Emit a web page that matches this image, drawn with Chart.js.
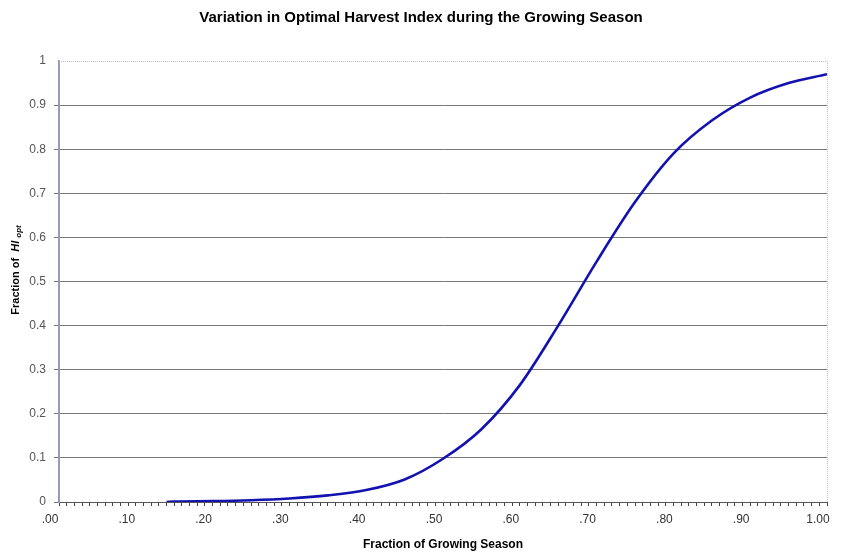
<!DOCTYPE html>
<html>
<head>
<meta charset="utf-8">
<script src="https://cdn.jsdelivr.net/npm/chart.js@4.4.1/dist/chart.umd.min.js"></script>
<style>
  body { margin: 0; background: #fff; }
  #wrap { width: 841px; height: 553px; }
</style>
</head>
<body>
<div id="wrap"><canvas id="hiChart" width="841" height="553"></canvas></div>
<script>
// fraction of growing season vs fraction of HI opt
var seasonFraction = [0.14, 0.15, 0.20, 0.25, 0.30, 0.35, 0.40, 0.45, 0.50, 0.55, 0.60, 0.65, 0.70, 0.75, 0.80, 0.85, 0.90, 0.95, 1.00];
var hiFraction     = [0.000, 0.001, 0.002, 0.004, 0.008, 0.015, 0.027, 0.051, 0.098, 0.165, 0.265, 0.400, 0.545, 0.680, 0.790, 0.865, 0.917, 0.950, 0.970];
var yTickValues = [0, 0.1, 0.2, 0.3, 0.4, 0.5, 0.6, 0.7, 0.8, 0.9, 1];

var chartTitle = 'Variation in Optimal Harvest Index during the Growing Season';
var xTitle = 'Fraction of Growing Season';

var points = seasonFraction.map(function (x, i) {
  return { x: x, y: hiFraction[i] };
});

// title, axis titles and the dotted plot border
var extrasPlugin = {
  id: 'extras',
  afterDraw: function (chart) {
    var ctx = chart.ctx;
    var area = chart.chartArea;
    ctx.save();

    // dotted top + right border
    ctx.strokeStyle = '#c8c890';
    ctx.lineWidth = 1;
    ctx.setLineDash([1, 1]);
    ctx.beginPath();
    ctx.moveTo(area.left, area.top + 0.5);
    ctx.lineTo(area.right + 0.5, area.top + 0.5);
    ctx.lineTo(area.right + 0.5, area.bottom);
    ctx.stroke();
    ctx.setLineDash([]);

    ctx.fillStyle = '#000';
    ctx.textAlign = 'center';
    ctx.textBaseline = 'middle';
    ctx.font = 'bold 15px "Liberation Sans", Arial, sans-serif';
    ctx.fillText(chartTitle, 421, 18);

    ctx.font = 'bold 12px "Liberation Sans", Arial, sans-serif';
    ctx.fillText(xTitle, (area.left + area.right) / 2, 545);

    // y title with italic HI and subscript opt
    var part1 = 'Fraction of  ';
    var f1 = 'bold 11px "Liberation Sans", Arial, sans-serif';
    var f2 = 'bold italic 11px "Liberation Sans", Arial, sans-serif';
    var f3 = 'bold italic 8px "Liberation Sans", Arial, sans-serif';
    ctx.font = f1; var w1 = ctx.measureText(part1).width;
    ctx.font = f2; var w2 = ctx.measureText('HI ').width;
    ctx.font = f3; var w3 = ctx.measureText('opt').width;
    var total = w1 + w2 + w3;
    ctx.translate(16, 270);
    ctx.rotate(-Math.PI / 2);
    ctx.textAlign = 'left';
    var sx = -total / 2;
    ctx.font = f1; ctx.fillText(part1, sx, 0);
    ctx.font = f2; ctx.fillText('HI ', sx + w1, 0);
    ctx.font = f3; ctx.fillText('opt', sx + w1 + w2, 3);
    ctx.restore();
  }
};

var ctx = document.getElementById('hiChart');
var hiChart = new Chart(ctx, {
  type: 'line',
  data: {
    datasets: [{
      data: points,
      borderColor: '#1212b0',
      borderWidth: 2.6,
      pointRadius: 0,
      fill: false,
      cubicInterpolationMode: 'monotone'
    }]
  },
  options: {
    responsive: false,
    animation: false,
    layout: { padding: { top: 61, right: 14, left: 0, bottom: 0 } },
    plugins: {
      legend: { display: false },
      title: { display: false },
      tooltip: { enabled: false }
    },
    scales: {
      x: {
        type: 'linear',
        min: 0,
        max: 1,
        afterFit: function (scale) {
          scale.height = 51;
          scale.paddingLeft = 0;
          scale.paddingRight = 0;
        },
        afterBuildTicks: function (scale) {
          var t = [];
          for (var i = 0; i <= 100; i++) t.push({ value: i / 100 });
          scale.ticks = t;
        },
        ticks: {
          autoSkip: false,
          maxRotation: 0,
          padding: 6,
          labelOffset: -9,
          color: '#333',
          font: { family: '"Liberation Sans", Arial, sans-serif', size: 12 },
          callback: function (v) {
            var k = Math.round(v * 100);
            if (k % 10 !== 0) return '';
            if (k === 100) return '1.00';
            return (k / 100).toFixed(2).replace(/^0/, '');
          }
        },
        grid: {
          drawOnChartArea: false,
          drawTicks: true,
          tickLength: 4,
          color: '#444'
        },
        border: { color: '#555', width: 1 }
      },
      y: {
        min: 0,
        max: 1,
        afterFit: function (scale) {
          scale.width = 59;
          scale.paddingTop = 0;
          scale.paddingBottom = 0;
        },
        afterBuildTicks: function (scale) {
          scale.ticks = yTickValues.map(function (v) { return { value: v }; });
        },
        ticks: {
          padding: 8,
          color: '#555',
          font: { family: '"Liberation Sans", Arial, sans-serif', size: 12 },
          callback: function (v) { return String(Math.round(v * 10) / 10); }
        },
        grid: {
          tickLength: 5,
          color: function (c) {
            return c.tick && c.tick.value === 1 ? 'rgba(0,0,0,0)' : '#777';
          },
          lineWidth: 1
        },
        border: { color: '#9898b8', width: 2 }
      }
    }
  },
  plugins: [extrasPlugin]
});
</script>
</body>
</html>
